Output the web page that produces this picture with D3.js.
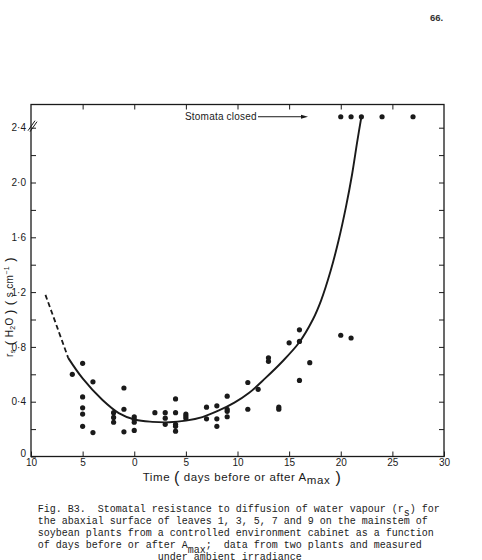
<!DOCTYPE html>
<html><head><meta charset="utf-8">
<script src="https://cdn.jsdelivr.net/npm/d3@7"></script>
<style>body{margin:0;background:#fff}svg{display:block}</style>
</head><body><svg id="c" width="482" height="560"></svg>
<script>
// ---- data ----
const xTicks = [-10, -5, 0, 5, 10, 15, 20, 25, 30];
const xTickLabels = ["10", "5", "0", "5", "10", "15", "20", "25", "30"];
const yTicks = [0, 0.4, 0.8, 1.2, 1.6, 2.0, 2.4];
const yTickLabels = ["0", "0·4", "0·8", "1·2", "1·6", "2·0", "2·4"];
const yMinorTicks = [0.2, 0.6, 1.0, 1.4, 1.8, 2.2];

const days = [-6, -5, -5, -5, -5, -5, -4, -4, -2, -2, -2, -1, -1, -1,
  0, 0, 0, 0, 2, 3, 3, 3, 4, 4, 4, 4, 4, 5, 5, 5, 7, 7, 8, 8, 8,
  9, 9, 9, 9, 11, 11, 12, 13, 13, 14, 14, 15, 16, 16, 16, 17, 20, 21];
const rs = [0.60, 0.68, 0.435, 0.355, 0.31, 0.22, 0.545, 0.175, 0.32, 0.285, 0.25, 0.50, 0.345, 0.18,
  0.29, 0.27, 0.25, 0.19, 0.32, 0.32, 0.28, 0.235, 0.42, 0.32, 0.235, 0.22, 0.185, 0.31, 0.295, 0.28, 0.36, 0.275, 0.37, 0.275, 0.22,
  0.44, 0.345, 0.33, 0.29, 0.54, 0.345, 0.49, 0.72, 0.695, 0.36, 0.345, 0.83, 0.925, 0.84, 0.555, 0.685, 0.885, 0.865];

const closedDays = [20, 21, 22, 24, 27];
const closedRs = [2.48, 2.48, 2.48, 2.48, 2.48];

const curveDashedDays = [-8.6, -7.4, -6.4];
const curveDashedRs = [1.18, 0.93, 0.72];
const curveDays = [-6.4, -5.0, -3.1, -1.5, 0.1, 1.75, 3.4, 5.0, 6.6, 8.2, 9.7, 11.1, 12.7, 14.3, 15.95, 17.3, 18.1, 19.0, 19.8, 20.5, 21.1, 21.6, 22.0];
const curveRs = [0.72, 0.57, 0.414, 0.317, 0.268, 0.253, 0.25, 0.262, 0.288, 0.336, 0.393, 0.463, 0.572, 0.69, 0.83, 1.0, 1.14, 1.35, 1.58, 1.82, 2.06, 2.3, 2.48];

const captionLines = [
  "Fig. B3.  Stomatal resistance to diffusion of water vapour (r ) for",
  "the abaxial surface of leaves 1, 3, 5, 7 and 9 on the mainstem of",
  "soybean plants from a controlled environment cabinet as a function",
  "of days before or after A   ;  data from two plants and measured",
  "                    under ambient irradiance"
];

// ---- drawing ----
const svg = d3.select("#c");
const L = 31, R = 444, T = 104.5, B = 456.5;
const x = d3.scaleLinear().domain([-10, 30]).range([L, R]);
const y = d3.scaleLinear().domain([0, (B - T) / 137]).range([B, T]);
const ink = "#1a1a1a";
const sans = "'Liberation Sans', Arial, sans-serif";

// page number
svg.append("text").attr("x", 430).attr("y", 21).attr("font-family", sans)
  .attr("font-size", 9.5).attr("font-weight", "bold").attr("fill", "#333").text("66.");

// frame
svg.append("rect").attr("x", L).attr("y", T).attr("width", R - L).attr("height", B - T)
  .attr("fill", "none").attr("stroke", ink).attr("stroke-width", 1.3);

// axes with inward ticks
const gx = svg.append("g").attr("transform", `translate(0,${B})`)
  .call(d3.axisBottom(x).tickValues(xTicks).tickSizeInner(-5).tickSizeOuter(0).tickPadding(6)
    .tickFormat((d, i) => xTickLabels[i]));
const gxt = svg.append("g").attr("transform", `translate(0,${T})`)
  .call(d3.axisTop(x).tickValues(xTicks.slice(1, -1)).tickSizeInner(-5).tickSizeOuter(0).tickFormat(""));
const gy = svg.append("g").attr("transform", `translate(${L},0)`)
  .call(d3.axisLeft(y).tickValues(yTicks).tickSizeInner(-5).tickSizeOuter(0).tickPadding(5)
    .tickFormat((d, i) => yTickLabels[i]));
const gym = svg.append("g").attr("transform", `translate(${L},0)`)
  .call(d3.axisLeft(y).tickValues(yMinorTicks).tickSizeInner(-5).tickSizeOuter(0).tickFormat(""));
const gyr = svg.append("g").attr("transform", `translate(${R},0)`)
  .call(d3.axisRight(y).tickValues(yTicks.slice(1).concat(yMinorTicks)).tickSizeInner(-5).tickSizeOuter(0).tickFormat(""));
[gx, gxt, gy, gym, gyr].forEach(g => {
  g.select(".domain").remove();
  g.selectAll("line").attr("stroke", ink).attr("stroke-width", 1);
  g.selectAll("text").attr("font-family", sans).attr("font-size", 10).attr("fill", ink);
});
gx.selectAll("text").attr("dy", "0.3em");
// y "0" label sits a little above the corner
gy.selectAll(".tick").filter(d => d === 0).select("text").attr("dy", "-0.05em");

// axis break mark at 2.4
const by = y(2.4) - 2;
svg.append("path").attr("d", `M${L - 3},${by + 5} L${L + 4},${by - 5} M${L - 1},${by + 6} L${L + 6},${by - 4}`)
  .attr("stroke", ink).attr("stroke-width", 1).attr("fill", "none");

// curve
const line = d3.line().x(d => x(d[0])).y(d => y(d[1])).curve(d3.curveCatmullRom);
svg.append("path").datum(curveDashedDays.map((d, i) => [d, curveDashedRs[i]]))
  .attr("d", line).attr("fill", "none").attr("stroke", ink).attr("stroke-width", 1.8)
  .attr("stroke-dasharray", "5,3");
svg.append("path").datum(curveDays.map((d, i) => [d, curveRs[i]]))
  .attr("d", line).attr("fill", "none").attr("stroke", ink).attr("stroke-width", 1.9);

// points
svg.append("g").selectAll("circle").data(days.map((d, i) => [d, rs[i]])).join("circle")
  .attr("cx", d => x(d[0])).attr("cy", d => y(d[1])).attr("r", 2.6).attr("fill", ink);
svg.append("g").selectAll("circle").data(closedDays.map((d, i) => [d, closedRs[i]])).join("circle")
  .attr("cx", d => x(d[0])).attr("cy", d => y(d[1])).attr("r", 2.6).attr("fill", ink);

// "Stomata closed" annotation with arrow
const ay = y(closedRs[0]);
svg.append("text").attr("x", 185).attr("y", ay + 3.5).attr("font-family", sans).attr("font-size", 10)
  .attr("fill", ink).attr("letter-spacing", 0.2).text("Stomata closed");
svg.append("line").attr("x1", 258).attr("y1", ay).attr("x2", 302).attr("y2", ay)
  .attr("stroke", ink).attr("stroke-width", 1);
svg.append("path").attr("d", `M${308},${ay} L${301},${ay - 2} L${301},${ay + 2} Z`).attr("fill", ink);

// x axis title
const xt = svg.append("text").attr("x", 242).attr("y", 481).attr("text-anchor", "middle")
  .attr("font-family", sans).attr("font-size", 11.5).attr("fill", ink).attr("letter-spacing", 0.6);
xt.append("tspan").text("Time ");
xt.append("tspan").attr("font-size", 16).attr("dy", 1.5).text("(");
xt.append("tspan").attr("dy", -1.5).text(" days  before  or  after  A");
xt.append("tspan").attr("dy", 2.5).text("max");
xt.append("tspan").attr("dy", -1).attr("font-size", 16).text(" )");

// y axis title (rotated)
const yt = svg.append("text").attr("transform", "translate(12.5,307) rotate(-90)").attr("text-anchor", "middle")
  .attr("font-family", sans).attr("font-size", 10).attr("fill", ink).attr("letter-spacing", 0.4);
yt.append("tspan").text("r");
yt.append("tspan").attr("font-size", 7).attr("dy", 2).text("s");
yt.append("tspan").attr("dy", -1).attr("font-size", 13).text("  (");
yt.append("tspan").attr("dy", -1).text(" H");
yt.append("tspan").attr("font-size", 7).attr("dy", 2).text("2");
yt.append("tspan").attr("dy", -2).text("O ");
yt.append("tspan").attr("dy", 1).attr("font-size", 13).text(")  (");
yt.append("tspan").attr("dy", -1).text(" s  cm");
yt.append("tspan").attr("font-size", 7).attr("dy", -4).text("−1");
yt.append("tspan").attr("dy", 5).attr("font-size", 13).text(" )");

// caption
const mono = "'Liberation Mono', 'DejaVu Sans Mono', monospace";
const cx0 = 37.7, cw = 6.0, cy0 = 511.5, lh = 12.05;
svg.append("g").selectAll("text").data(captionLines).join("text")
  .attr("x", cx0).attr("y", (d, i) => cy0 + i * lh)
  .attr("font-family", mono).attr("font-size", 10).attr("fill", "#222")
  .attr("xml:space", "preserve").style("white-space", "pre").text(d => d);
svg.append("text").attr("x", cx0 + 61 * cw).attr("y", cy0 + 4.5).attr("font-family", mono)
  .attr("font-size", 10).attr("fill", "#222").text("s");
svg.append("text").attr("x", cx0 + 25 * cw).attr("y", cy0 + 3 * lh + 5.5).attr("font-family", mono)
  .attr("font-size", 10).attr("fill", "#222").text("max");
</script>
</body></html>
